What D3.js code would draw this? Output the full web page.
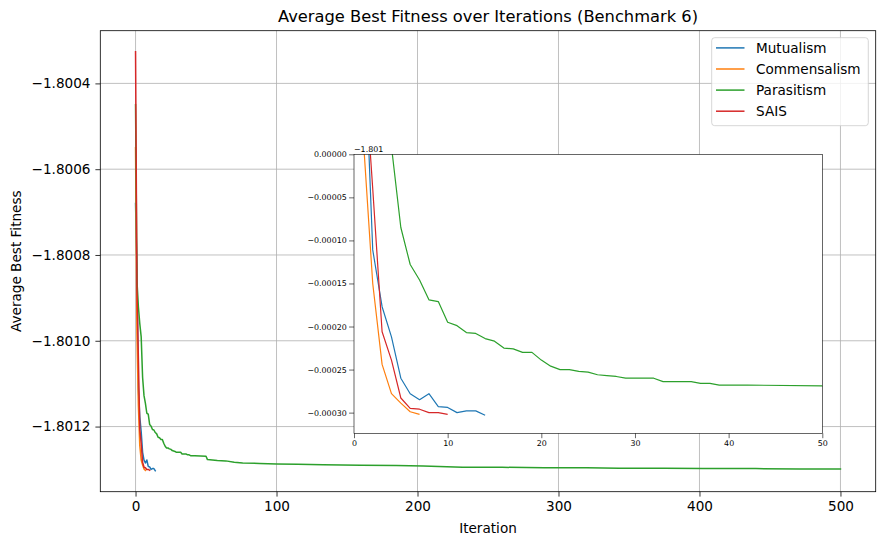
<!DOCTYPE html>
<html>
<head>
<meta charset="utf-8">
<script src="https://cdn.jsdelivr.net/npm/d3@7"></script>
<style>
  body { margin: 0; background: #fff; }
  text { font-family: "DejaVu Sans", sans-serif; fill: #000; }
</style>
</head>
<body>
<svg width="884" height="545"></svg>
<script>
// --- Data (average best fitness per iteration) ---
const mutualismFit = [-1.800680, -1.800834, -1.801111, -1.801177, -1.801212, -1.801260, -1.801278,
  -1.801285, -1.801278, -1.801293, -1.801294, -1.801300, -1.801298, -1.801298, -1.801303];
const commensalismFit = [-1.800550, -1.800983, -1.801150, -1.801244, -1.801278, -1.801289,
  -1.801299, -1.801302];
const saisFit = [-1.800326, -1.800880, -1.801040, -1.801206, -1.801239, -1.801283, -1.801295,
  -1.801296, -1.801300, -1.801300, -1.801302];
// parasitism runs to 500 iterations; kept as (iteration, value) knots where the curve steps
const parasitismIter = [0, 1, 2, 3, 4, 5, 6, 7, 8, 9, 10, 11, 12, 13, 14, 15, 16, 17, 18, 19, 20,
  21, 22, 23, 24, 25, 26, 27, 28, 29, 32, 33, 36, 37, 38, 39, 41, 42, 50, 51, 58, 64, 70, 76, 88,
  100, 115, 133, 160, 185, 204, 232, 260, 290, 320, 343, 375, 402, 440, 471, 500];
const parasitismFit = [-1.800450, -1.800860, -1.800920, -1.800960, -1.800991, -1.801085, -1.801128,
  -1.801146, -1.801169, -1.801171, -1.801195, -1.801199, -1.801207, -1.801208, -1.801214, -1.801217,
  -1.801225, -1.801226, -1.801230, -1.801230, -1.801239, -1.801246, -1.801250, -1.801250, -1.801252,
  -1.801253, -1.801256, -1.801257, -1.801258, -1.801260, -1.801260, -1.801264, -1.801264, -1.801266,
  -1.801266, -1.801268, -1.801268, -1.801268, -1.801269, -1.801277, -1.801279, -1.801280, -1.801283,
  -1.801285, -1.801286, -1.801287, -1.801288, -1.801289, -1.801290, -1.801291, -1.801292, -1.801295,
  -1.801295, -1.801296, -1.801296, -1.801297, -1.801297, -1.801298, -1.801298, -1.801299, -1.801299];

const seriesNames = ["Mutualism", "Commensalism", "Parasitism", "SAIS"];
const colors = ["#1f77b4", "#ff7f0e", "#2ca02c", "#d62728"];

const xTicks = [0, 100, 200, 300, 400, 500];
const yTicks = [-1.8012, -1.8010, -1.8008, -1.8006, -1.8004];
const insetOffset = -1.801;
const insetXTicks = [0, 10, 20, 30, 40, 50];
const insetYTicks = [0, -0.00005, -0.0001, -0.00015, -0.0002, -0.00025, -0.0003];

const toPoints = arr => arr.map((v, i) => [i, v]);
const series = [
  toPoints(mutualismFit),
  toPoints(commensalismFit),
  parasitismIter.map((it, i) => [it, parasitismFit[i]]),
  toPoints(saisFit)
];

// --- Main axes ---
const svg = d3.select("svg");
const box = { left: 100.3, right: 875.7, top: 30.7, bottom: 491.7 };

const allPts = series.flat();
const xExt = d3.extent(allPts, d => d[0]);
const yExt = d3.extent(allPts, d => d[1]);
const xPad = (xExt[1] - xExt[0]) * 0.05, yPad = (yExt[1] - yExt[0]) * 0.05;

const x = d3.scaleLinear().domain([xExt[0] - xPad, xExt[1] + xPad]).range([box.left, box.right]);
const y = d3.scaleLinear().domain([yExt[0] - yPad, yExt[1] + yPad]).range([box.bottom, box.top]);

// grid
const grid = svg.append("g").attr("stroke", "#b0b0b0").attr("stroke-width", 0.8);
grid.selectAll(".gx").data(xTicks).enter().append("line")
  .attr("x1", d => x(d)).attr("x2", d => x(d)).attr("y1", box.top).attr("y2", box.bottom);
grid.selectAll(".gy").data(yTicks).enter().append("line")
  .attr("x1", box.left).attr("x2", box.right).attr("y1", d => y(d)).attr("y2", d => y(d));

const line = d3.line().x(d => x(d[0])).y(d => y(d[1]));
svg.append("g").selectAll("path").data(series).enter().append("path")
  .attr("d", line).attr("fill", "none")
  .attr("stroke", (d, i) => colors[i]).attr("stroke-width", 1.5)
  .attr("stroke-linejoin", "round").attr("stroke-linecap", "square");

// axes
const xAxis = svg.append("g").attr("transform", `translate(0,${box.bottom})`)
  .call(d3.axisBottom(x).tickValues(xTicks).tickSize(4.9).tickPadding(4.5).tickFormat(d3.format("d")));
const yAxis = svg.append("g").attr("transform", `translate(${box.left},0)`)
  .call(d3.axisLeft(y).tickValues(yTicks).tickSize(4.9).tickPadding(4.9).tickFormat(d3.format(".4f")));
[xAxis, yAxis].forEach(a => {
  a.select(".domain").remove();
  a.selectAll(".tick line").attr("stroke", "#000").attr("stroke-width", 0.8);
  a.selectAll(".tick text").attr("font-size", "13.6px").attr("font-family", "DejaVu Sans").attr("fill", "#000");
});

svg.append("rect").attr("x", box.left).attr("y", box.top)
  .attr("width", box.right - box.left).attr("height", box.bottom - box.top)
  .attr("fill", "none").attr("stroke", "#000").attr("stroke-width", 0.8);

svg.append("text").attr("x", (box.left + box.right) / 2).attr("y", 22)
  .attr("text-anchor", "middle").attr("font-size", "16.3px")
  .text("Average Best Fitness over Iterations (Benchmark 6)");
svg.append("text").attr("x", (box.left + box.right) / 2).attr("y", 533)
  .attr("text-anchor", "middle").attr("font-size", "13.6px").text("Iteration");
svg.append("text").attr("transform", `translate(21,${(box.top + box.bottom) / 2}) rotate(-90)`)
  .attr("text-anchor", "middle").attr("font-size", "13.6px").text("Average Best Fitness");

// legend
const lg = svg.append("g");
lg.append("rect").attr("x", 711.7).attr("y", 37.7).attr("width", 156.6).attr("height", 88)
  .attr("rx", 3).attr("fill", "#fff").attr("fill-opacity", 0.8)
  .attr("stroke", "#cccccc").attr("stroke-width", 0.8);
seriesNames.forEach((name, i) => {
  const ly = 47.9 + i * 21.1;
  lg.append("line").attr("x1", 716).attr("x2", 744.5).attr("y1", ly).attr("y2", ly)
    .attr("stroke", colors[i]).attr("stroke-width", 1.5);
  lg.append("text").attr("x", 756).attr("y", ly).attr("dy", "0.36em")
    .attr("font-size", "13.6px").attr("fill", "#222").text(name);
});

// --- Inset (zoom on the first 50 iterations) ---
const ib = { left: 354, right: 822.3, top: 154.3, bottom: 433.3 };
const xi = d3.scaleLinear().domain([0, 50]).range([ib.left, ib.right]);
const yi = d3.scaleLinear().domain([insetOffset - 0.000324, insetOffset]).range([ib.bottom, ib.top]);

svg.append("defs").append("clipPath").attr("id", "insetClip").append("rect")
  .attr("x", ib.left).attr("y", ib.top).attr("width", ib.right - ib.left).attr("height", ib.bottom - ib.top);

svg.append("rect").attr("x", ib.left).attr("y", ib.top)
  .attr("width", ib.right - ib.left).attr("height", ib.bottom - ib.top).attr("fill", "#fff");

const lineI = d3.line().x(d => xi(d[0])).y(d => yi(d[1]));
svg.append("g").attr("clip-path", "url(#insetClip)")
  .selectAll("path").data(series).enter().append("path")
  .attr("d", lineI).attr("fill", "none")
  .attr("stroke", (d, i) => colors[i]).attr("stroke-width", 1.2)
  .attr("stroke-linejoin", "round");

const ixAxis = svg.append("g").attr("transform", `translate(0,${ib.bottom})`)
  .call(d3.axisBottom(xi).tickValues(insetXTicks).tickSize(4.9).tickPadding(2.4).tickFormat(d3.format("d")));
const iyAxis = svg.append("g").attr("transform", `translate(${ib.left},0)`)
  .call(d3.axisLeft(d3.scaleLinear().domain([-0.000324, 0]).range([ib.bottom, ib.top]))
    .tickValues(insetYTicks).tickSize(4.9).tickPadding(2.4).tickFormat(d3.format(".5f")));
[ixAxis, iyAxis].forEach(a => {
  a.select(".domain").remove();
  a.selectAll(".tick line").attr("stroke", "#000").attr("stroke-width", 0.6);
  a.selectAll(".tick text").attr("font-size", "7.9px").attr("font-family", "DejaVu Sans").attr("fill", "#000");
});
svg.append("rect").attr("x", ib.left).attr("y", ib.top)
  .attr("width", ib.right - ib.left).attr("height", ib.bottom - ib.top)
  .attr("fill", "none").attr("stroke", "#000").attr("stroke-width", 0.6);
svg.append("text").attr("x", ib.left).attr("y", 152).attr("font-size", "7.9px")
  .text(d3.format(".3f")(insetOffset));
</script>
</body>
</html>
